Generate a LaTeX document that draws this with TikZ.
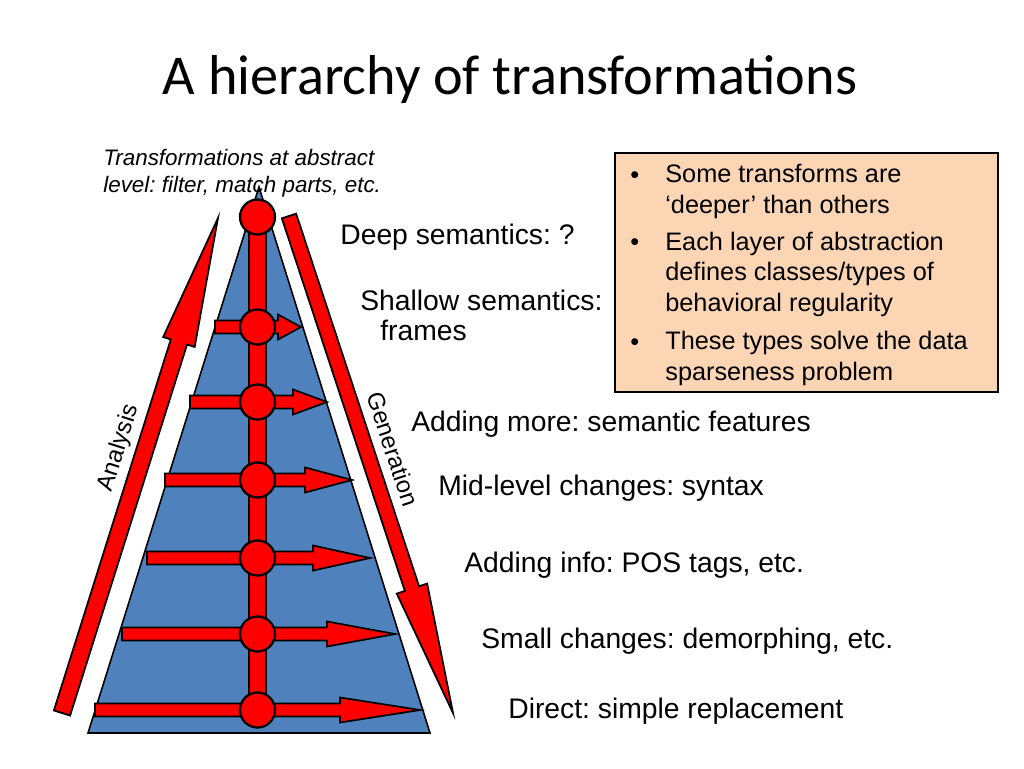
\documentclass[tikz,border=0pt]{standalone}
\usepackage{fontspec}
\setmainfont{Liberation Sans}
\newfontfamily\titlefont{Carlito}
\frenchspacing
\usepackage{tikz}
\usetikzlibrary{calc,positioning}
\definecolor{pyrblue}{RGB}{79,129,189}
\definecolor{notepeach}{RGB}{252,213,180}

% block arrow: tail, tip, shaft half width, head half width, head length (all px)
\newcommand{\blockarrow}[5]{%
  \coordinate (hb) at ($(#2)!#5*0.02cm!(#1)$);
  \filldraw[redshape] ($(#1)!#3*0.02cm!90:(#2)$) -- ($(hb)!#3*0.02cm!90:(#2)$)
    -- ($(hb)!#4*0.02cm!90:(#2)$) -- (#2) -- ($(hb)!#4*0.02cm!-90:(#2)$)
    -- ($(hb)!#3*0.02cm!-90:(#2)$) -- ($(#1)!#3*0.02cm!-90:(#2)$) -- cycle;
}

\begin{document}
\begin{tikzpicture}[x=0.02cm,y=-0.02cm,
    redshape/.style={fill=red, draw=black, line width=1pt},
    joint/.style={circle, fill=red, draw=black, line width=1.3pt, minimum size=0.7cm, inner sep=0pt},
    lbl/.style={inner sep=0pt, font=\fontsize{16.1}{17}\selectfont},
    note/.style={inner sep=0pt, font=\fontsize{12.75}{15.3}\selectfont\itshape},
    boxtxt/.style={inner sep=0pt, font=\fontsize{14.4}{17.3}\selectfont},
    sidelbl/.style={inner sep=0pt, font=\fontsize{13.6}{16}\selectfont},
    notebox/.style={draw=black, fill=notepeach, line width=0.8pt, minimum width=7.66cm, minimum height=4.78cm, inner sep=0pt}]
  \useasboundingbox[fill=white] (0,0) rectangle (1024,768);
  % Title
  \node[anchor=base, inner sep=0pt, font=\titlefont\fontsize{32}{38}\selectfont] (title) at (510,94) {A hierarchy of transformations};
  % Pyramid
  \coordinate (bl) at (88,733);
  \coordinate (br) at (430,733);
  \coordinate (apex) at (259,187);
  \filldraw[fill=pyrblue, draw=black, line width=0.9pt] (bl) -- (br) -- (apex) -- cycle;
  % Analysis and generation arrows
  \coordinate (anatail) at (62,713);
  \coordinate (anatip) at (218,218);
  \coordinate (gentail) at (289,216);
  \coordinate (gentip) at (453,713);
  \blockarrow{anatail}{anatip}{8.5}{16.5}{130}
  \blockarrow{gentail}{gentip}{7.5}{16}{131}
  \node[sidelbl, rotate=72.5] (ana) at (119,448) {Analysis};
  \node[sidelbl, rotate=-71.7] (gen) at (393,449) {Generation};
  % Central bar
  \filldraw[redshape] (249,217) rectangle (266,710);
  % Layer arrows
  \coordinate (t2) at (215,327);
  \coordinate (p2) at (301,327);
  \coordinate (t3) at (190,402);
  \coordinate (p3) at (327,402);
  \coordinate (t4) at (165,480);
  \coordinate (p4) at (352,480);
  \coordinate (t5) at (147,558);
  \coordinate (p5) at (370,558);
  \coordinate (t6) at (122,634);
  \coordinate (p6) at (395,634);
  \coordinate (t7) at (95,710);
  \coordinate (p7) at (420,710);
  \blockarrow{t2}{p2}{6.5}{12.5}{23}
  \blockarrow{t3}{p3}{6.5}{12.5}{34}
  \blockarrow{t4}{p4}{6.5}{12.5}{47}
  \blockarrow{t5}{p5}{6.5}{12.5}{57}
  \blockarrow{t6}{p6}{6.5}{12.5}{68}
  \blockarrow{t7}{p7}{6.5}{12.5}{80}
  % Layer nodes
  \node[joint] (c1) at (257.5,217) {};
  \node[joint] (c2) at (257.5,327) {};
  \node[joint] (c3) at (257.5,402) {};
  \node[joint] (c4) at (257.5,480) {};
  \node[joint] (c5) at (257.5,558) {};
  \node[joint] (c6) at (257.5,634) {};
  \node[joint] (c7) at (257.5,710) {};
  % Labels (multi-line nodes sit on their last baseline)
  \node[note, anchor=base west, align=left] (abstr) at (103,192) {Transformations at abstract\\level: filter, match parts, etc.};
  \node[lbl, anchor=base west] (deep) at (340,244) {Deep semantics: ?};
  \node[lbl, anchor=base west, align=left] (shallow) at (360,340) {Shallow semantics:\\\hspace*{0.4cm}frames};
  \node[lbl, anchor=base west] (more) at (411,431) {Adding more: semantic features};
  \node[lbl, anchor=base west] (mid) at (438,495) {Mid-level changes: syntax};
  \node[lbl, anchor=base west] (info) at (464,572) {Adding info: POS tags, etc.};
  \node[lbl, anchor=base west] (small) at (481,648) {Small changes: demorphing, etc.};
  \node[lbl, anchor=base west] (direct) at (508,718) {Direct: simple replacement};
  % Notes box
  \node[notebox] (notes) at (806.5,272.5) {};
  \node[boxtxt, anchor=base west] (d1) at (630,183) {•};
  \node[boxtxt, anchor=base west] (d2) at (630,250) {•};
  \node[boxtxt, anchor=base west] (d3) at (630,350) {•};
  \node[boxtxt, anchor=base west, align=left] (b1) at (665,213) {Some transforms are\\‘deeper’ than others};
  \node[boxtxt, anchor=base west, align=left] (b2) at (665,311) {Each layer of abstraction\\defines classes/types of\\behavioral regularity};
  \node[boxtxt, anchor=base west, align=left] (b3) at (665,380) {These types solve the data\\sparseness problem};
\end{tikzpicture}
\end{document}
